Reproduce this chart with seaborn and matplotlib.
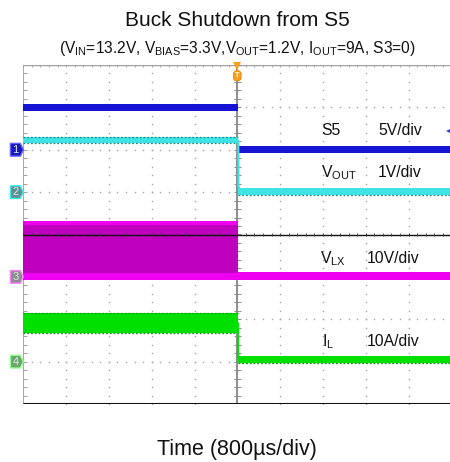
import numpy as np
import pandas as pd
import matplotlib
matplotlib.use("Agg")
import matplotlib.pyplot as plt
import seaborn as sns
from matplotlib.patches import Polygon

# ---- channel setup -------------------------------------------------------
channels = ["S5", "VOUT", "VLX", "IL"]
units_per_div = [5, 1, 10, 10]
ground_div = [2, 1, -1, -3]
scale_labels = ["5V/div", "1V/div", "10V/div", "10A/div"]
trace_names = ["S5", r"$\mathregular{V_{OUT}}$", r"$\mathregular{V_{LX}}$", r"$\mathregular{I_{L}}$"]

# ---- time base (µs), 800 µs/div, trigger in the centre -------------------
us_per_div = 800
t_start, t_off, t_end = -4000, 10, 4000

# envelope (min, max) of each trace while switching and after shutdown
on_lo = [4.6, 1.15, -0.7, 6.8]
on_hi = [5.4, 1.31, 13.2, 11.5]
off_lo = [-0.4, -0.07, -0.7, -0.4]
off_hi = [0.4, 0.10, 1.2, 1.3]

# VLX persistence: dense switching body inside the envelope
vlx_core = [1.0, 12.2]

# VOUT discharge right after the edge
vout_fall_t = [10, 19, 22, 45, 100]
vout_fall_v = [1.22, 1.2, 0.15, 0.05, 0.02]

# IL step at the edge (start, end)
il_step = [9.0, 0.6]

# CH1 trigger level (V)
s5_trig_level = 2.2

colors = ["#1414d2", "#3ee4e4", "#f000f0", "#00e000"]
edge_colors = ["#0a0a90", "#1f8c8c", "#a000a0", "#009a00"]
marker_fill = ["#1818b8", "#5f9090", "#8c8c8c", "#6aa56a"]
marker_edge = ["#6060ff", "#40f0f0", "#ff80ff", "#90ff90"]

sns.set_theme(style="white")
plt.rcParams["font.family"] = ["Liberation Sans", "DejaVu Sans"]
plt.rcParams["mathtext.fontset"] = "custom"
plt.rcParams["mathtext.rm"] = "Liberation Sans"
plt.rcParams["mathtext.it"] = "Liberation Sans:italic"
plt.rcParams["mathtext.bf"] = "Liberation Sans:bold"


def to_div(ch, v):
    return ground_div[ch] + np.asarray(v, dtype=float) / units_per_div[ch]


fig = plt.figure(figsize=(4.5, 4.62), dpi=100)
ax = fig.add_axes([23.3 / 450, 1 - 404 / 462, 428 / 450, 339 / 462])
ax.set_xlim(t_start, t_end)
ax.set_ylim(-4, 4)
for s in ax.spines.values():
    s.set_visible(False)
ax.set_xticks([])
ax.set_yticks([])
ax.patch.set_alpha(0)

# ---- graticule -------------------------------------------------------------
grid_c = "#a4a4a4"
minor_x = np.arange(t_start, t_end + 1, us_per_div / 5)
minor_y = np.arange(-4, 4.001, 0.2)
for k in range(1, 10):
    if k == 5:
        continue
    xg = t_start + k * us_per_div
    ax.plot(np.full_like(minor_y, xg), minor_y, ls="none", marker="s", ms=1.0,
            mew=0, color=grid_c, zorder=1)
for yg in [-3, -2, -1, 1, 2, 3]:
    ax.plot(minor_x, np.full_like(minor_x, yg), ls="none", marker="s", ms=1.0,
            mew=0, color=grid_c, zorder=1)

tick_h = 0.05
tick_w = 60
# left and top border
ax.plot([t_start, t_start], [-4, 4], color="#a0a0a0", lw=1.3, zorder=2)
ax.plot([t_start, t_end], [4, 4], color="#a0a0a0", lw=1.0, zorder=2)
ax.hlines(minor_y, t_start, t_start + tick_w, color="#a0a0a0", lw=0.7, zorder=2)
ax.vlines(minor_x, 4 - tick_h, 4, color="#a0a0a0", lw=0.7, zorder=2)
# centre vertical axis
ax.plot([0, 0], [-4, 4], color="#8c8c8c", lw=1.4, zorder=2)
ax.hlines(minor_y, -tick_w, tick_w, color="#8c8c8c", lw=0.7, zorder=2)
# bottom border
ax.plot([t_start, t_end], [-4, -4], color="#111111", lw=2.2, zorder=6,
        solid_capstyle="butt")

# ---- traces -----------------------------------------------------------------
t_on = [t_start, t_off]
t_after = [t_off, t_end]
for ch in range(4):
    ax.fill_between(t_on, to_div(ch, [on_lo[ch]] * 2), to_div(ch, [on_hi[ch]] * 2),
                    color=colors[ch], lw=0, zorder=3)
    ax.fill_between(t_after, to_div(ch, [off_lo[ch]] * 2), to_div(ch, [off_hi[ch]] * 2),
                    color=colors[ch], lw=0, zorder=3)

# darker switching body of VLX
ax.fill_between(t_on, to_div(2, [vlx_core[0]] * 2), to_div(2, [vlx_core[1]] * 2),
                color="#bf00bf", lw=0, zorder=3.2)

# noisy edges of the bands
for ch in (1, 3):
    for lvl in (on_lo[ch], on_hi[ch]):
        ax.plot(t_on, to_div(ch, [lvl] * 2), color=edge_colors[ch], lw=0.9,
                ls=(0, (1.5, 1.5)), zorder=3.3)
    ax.plot(t_after, to_div(ch, [off_lo[ch]] * 2), color=edge_colors[ch], lw=0.9,
            ls=(0, (1.5, 1.5)), zorder=3.3)

# edges at shutdown
edge_df = pd.concat([
    pd.DataFrame({"t": vout_fall_t, "y": to_div(1, vout_fall_v), "ch": "VOUT"}),
    pd.DataFrame({"t": [t_off, t_off], "y": to_div(3, il_step), "ch": "IL"}),
], ignore_index=True)
sns.lineplot(data=edge_df, x="t", y="y", hue="ch", sort=False, estimator=None,
             palette={"VOUT": colors[1], "IL": colors[3]},
             lw=1.5, legend=False, ax=ax, zorder=3.5)

# centre horizontal axis drawn over the traces
ax.plot([t_start, t_end], [0, 0], color="#111111", lw=1.0, zorder=4)
ax.vlines(minor_x, -0.035, 0.035, color="#333333", lw=0.6, zorder=4)

# ---- channel ground markers ----------------------------------------------
for ch in range(4):
    g = ground_div[ch]
    poly = Polygon([[-4240, g - 0.15], [-4055, g - 0.15], [-4000, g],
                    [-4055, g + 0.15], [-4240, g + 0.15]], closed=True,
                   fc=marker_fill[ch], ec=marker_edge[ch], lw=1.0,
                   clip_on=False, zorder=7)
    ax.add_patch(poly)
    ax.text(-4145, g, str(ch + 1), color="#e0e8f0", fontsize=8, ha="center",
            va="center", clip_on=False, zorder=8)

# trigger marker
ax.plot([0], [3.965], marker="v", ms=5.5, color="#f5a020", mew=0, clip_on=False, zorder=8)
ax.plot([0, 0], [3.93, 3.8], color="#f5a020", lw=1.0, zorder=8)
ax.text(0, 3.745, "T", fontsize=5.5, color="white", ha="center", va="center",
        fontweight="bold", zorder=9,
        bbox=dict(boxstyle="round,pad=0.2,rounding_size=0.4", fc="#f5a020",
                  ec="#e08a00", lw=0.6))

# CH1 trigger level arrow at the right edge
ax.plot([3960], [to_div(0, s5_trig_level)], marker="<", ms=5, color="#3040e0",
        mew=0, clip_on=False, zorder=8)

# ---- channel labels ----------------------------------------------------------
name_x = [1576, 1560, 1544, 1576]
scale_x = [2632, 2632, 2416, 2416]
base_y = [2.347, 1.349, -0.679, -2.630]
for ch in range(4):
    ax.text(name_x[ch], base_y[ch], trace_names[ch], fontsize=11.3, color="#111111",
            ha="left", va="baseline", zorder=9)
    ax.text(scale_x[ch], base_y[ch], scale_labels[ch], fontsize=11.3, color="#111111",
            ha="left", va="baseline", zorder=9)

# ---- titles --------------------------------------------------------------------
cx = (23.3 + 451.3) / 2 / 450
fig.text(cx, 1 - 26 / 462, "Buck Shutdown from S5", fontsize=15, ha="center",
         va="baseline", color="#111111")
fig.text(cx, 1 - 53.3 / 462,
         r"(V$\mathregular{_{IN}}$=13.2V, V$\mathregular{_{BIAS}}$=3.3V,V$\mathregular{_{OUT}}$=1.2V, "
         r"I$\mathregular{_{OUT}}$=9A, S3=0)",
         fontsize=11.2, ha="center", va="baseline", color="#111111")
fig.text(cx, 1 - 455 / 462, "Time (800µs/div)", fontsize=15.5, ha="center",
         va="baseline", color="#111111")

fig.savefig("out.png", dpi=100)
